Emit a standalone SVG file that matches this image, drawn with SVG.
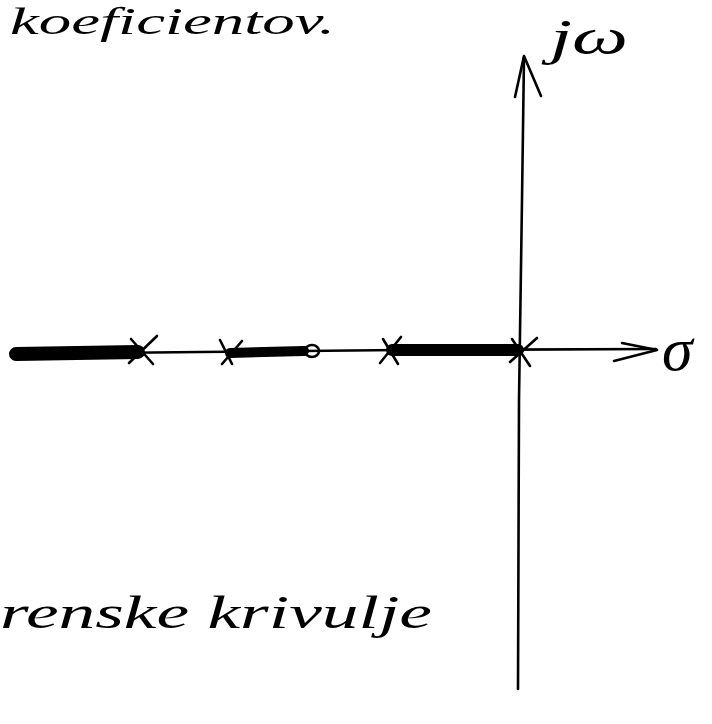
<svg xmlns="http://www.w3.org/2000/svg" width="712" height="724" viewBox="0 0 712 724">
<style>
.ax{fill:none;stroke:#000;stroke-width:2.6;stroke-linecap:round;stroke-linejoin:round}
.thick{fill:none;stroke:#000;stroke-linecap:round}
.pole{fill:none;stroke:#000;stroke-width:2.6;stroke-linecap:round}
.lbl{font-family:"Liberation Serif",serif;font-style:italic;fill:#000}
</style>
<rect width="712" height="724" fill="#fff"/>
<g id="connectors">
<path class="ax" d="M12,354 L200,352 L400,350 L656,349"/>
<path class="ax" d="M622,343 L657,350 L614,361"/>
<path class="ax" d="M518,689 L519,400 L522,200 L524,57"/>
<path class="ax" d="M515,97 L524,56 L541,96"/>
</g>
<g id="locus">
<path class="thick" stroke-width="14" d="M16,354 L138,352"/>
<path class="thick" stroke-width="10" d="M230,353 L304,351"/>
<path class="thick" stroke-width="12" d="M392,350 L518,350"/>
</g>
<g id="pole1"><path class="pole" d="M131,339 L153,364 M129,363 L157,336"/></g>
<g id="pole2"><path class="pole" d="M220,340 L232,364 M222,364 L242,341"/></g>
<g id="zero1"><ellipse cx="312" cy="351" rx="7" ry="6" fill="none" stroke="#000" stroke-width="2.6"/></g>
<g id="pole3"><path class="pole" d="M383,339 L398,364 M380,363 L401,337"/></g>
<g id="pole4"><path class="pole" d="M512,339 L530,366 M510,362 L537,338"/></g>
<g id="labels">
<text class="lbl" x="10" y="34" font-size="38" textLength="325" lengthAdjust="spacingAndGlyphs">koeficientov.</text>
<text class="lbl" x="550" y="54" font-size="50" textLength="78" lengthAdjust="spacingAndGlyphs">jω</text>
<text class="lbl" x="662" y="370" font-size="62">σ</text>
<text class="lbl" x="0" y="628" font-size="46" textLength="432" lengthAdjust="spacingAndGlyphs">renske krivulje</text>
</g>
</svg>
